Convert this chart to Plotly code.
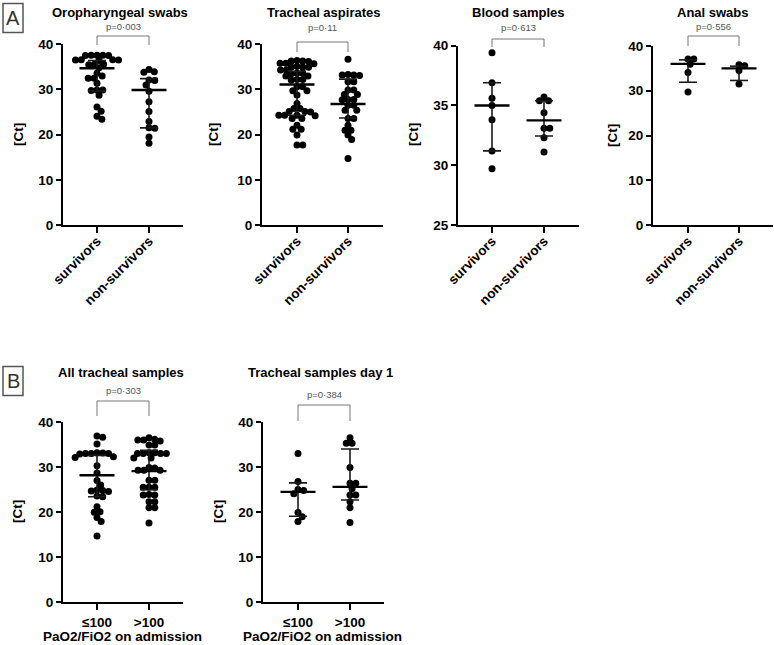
import math
import plotly.graph_objects as go

W, H = 774, 645

# ---------------- data ----------------
outcome_labels = ["survivors", "non-survivors"]
pf_labels = ["≤100", ">100"]

oro_surv = [37.6, 37.6, 37.6, 37.5, 37.5, 36.6, 36.6, 36.5, 36.5, 36.4, 35.6, 35.6, 35.5,
            34.8, 33.6, 33.0, 32.5, 32.5, 31.4, 29.9, 29.9, 29.8, 28.7, 26.1, 25.2, 24.1, 23.4]
oro_non = [34.4, 33.9, 33.8, 32.1, 32.0, 31.0, 29.6, 27.3, 25.1, 22.9, 21.5, 21.4, 19.5, 18.1]
oro_med = [34.7, 29.9]
oro_q1 = [29.7, 21.5]
oro_q3 = [36.4, 32.4]

tra_surv = [36.3, 36.3, 36.2, 36.4, 35.8, 35.8, 35.7, 35.0, 35.0, 35.1, 34.9, 34.3, 34.3,
            33.6, 33.6, 33.5, 33.0, 33.0, 32.2, 32.2, 32.1, 30.6, 30.6, 29.7, 29.7, 28.8,
            26.9, 25.8, 25.8, 25.1, 25.1, 25.0, 24.3, 24.3, 24.2, 24.3, 23.6, 23.6, 22.1,
            21.2, 21.2, 19.9, 17.7, 17.7]
tra_non = [36.7, 33.2, 33.2, 33.3, 33.1, 31.7, 31.7, 29.9, 29.9, 28.9, 28.9, 27.8, 27.8,
           27.7, 26.5, 26.5, 25.4, 25.4, 23.6, 23.6, 22.1, 21.0, 21.0, 19.9, 18.9, 14.7]
tra_med = [31.1, 26.8]
tra_q1 = [24.3, 23.7]
tra_q3 = [34.0, 32.3]

blood_surv = [39.4, 36.9, 35.6, 35.0, 33.8, 31.2, 29.7]
blood_non = [35.7, 35.4, 35.4, 34.4, 33.1, 33.1, 32.3, 31.1]
blood_med = [35.0, 33.75]
blood_q1 = [31.2, 32.45]
blood_q3 = [36.9, 35.4]

anal_surv = [37.1, 37.1, 35.9, 34.1, 29.7]
anal_non = [35.8, 35.6, 34.5, 31.5]
anal_med = [36.0, 35.0]
anal_q1 = [31.9, 32.3]
anal_q3 = [36.9, 35.5]

all_low = [36.9, 36.6, 35.1, 33.2, 33.1, 33.0, 33.0, 33.0, 32.9, 32.3, 32.1, 30.3, 28.7, 27.0,
           26.0, 24.9, 24.8, 24.7, 24.6, 23.6, 23.4, 21.2, 20.1, 20.0, 18.8, 17.9, 14.7]
all_high = [36.5, 36.2, 36.0, 36.0, 35.8, 34.9, 34.9, 33.0, 33.0, 33.0, 33.2, 33.2, 33.0,
            32.0, 32.0, 29.9, 29.8, 29.3, 29.3, 29.3, 27.1, 27.1, 25.5, 25.5, 25.5, 23.8,
            23.8, 23.9, 22.3, 22.3, 21.0, 21.0, 17.6]
all_med = [28.2, 29.1]
all_q1 = [23.4, 25.0]
all_q3 = [32.6, 33.7]

day1_low = [33.0, 26.8, 25.0, 24.8, 24.1, 19.9, 19.0, 17.9]
day1_high = [36.5, 35.3, 35.3, 29.9, 26.4, 26.4, 25.2, 23.8, 23.8, 22.3, 21.0, 17.7]
day1_med = [24.5, 25.6]
day1_q1 = [19.1, 22.7]
day1_q3 = [26.5, 34.0]

titles = ["Oropharyngeal swabs", "Tracheal aspirates", "Blood samples", "Anal swabs",
          "All tracheal samples", "Tracheal samples day 1"]
pvalues = ["p=0·003", "p=0·11", "p=0·613", "p=0·556", "p=0·303", "p=0·384"]

# ---------------- layout geometry (pixels) ----------------
panels = [
    dict(groups=[oro_surv, oro_non], med=oro_med, q1=oro_q1, q3=oro_q3, labels=outcome_labels,
         x0=63, x1=183, c0=97, c1=149, ytop=44.3, ybot=225, yr=[0, 40], dt=10,
         ty=12.5, tx=120, py=26, bt=36, bb=45, ctx=18, cty=135, angle=-45),
    dict(groups=[tra_surv, tra_non], med=tra_med, q1=tra_q1, q3=tra_q3, labels=outcome_labels,
         x0=262, x1=383, c0=297, c1=348, ytop=44.3, ybot=225, yr=[0, 40], dt=10,
         ty=12.5, tx=323, py=28, bt=42, bb=52, ctx=213, cty=135, angle=-45),
    dict(groups=[blood_surv, blood_non], med=blood_med, q1=blood_q1, q3=blood_q3, labels=outcome_labels,
         x0=458, x1=579, c0=492, c1=544, ytop=45.7, ybot=225, yr=[25, 40], dt=5,
         ty=12.5, tx=518, py=28, bt=39, bb=47, ctx=413, cty=135, angle=-45),
    dict(groups=[anal_surv, anal_non], med=anal_med, q1=anal_q1, q3=anal_q3, labels=outcome_labels,
         x0=653, x1=773, c0=688, c1=739, ytop=46, ybot=225, yr=[0, 40], dt=10,
         ty=12.5, tx=713, py=26.5, bt=36, bb=46, ctx=612, cty=136, angle=-45),
    dict(groups=[all_low, all_high], med=all_med, q1=all_q1, q3=all_q3, labels=pf_labels,
         x0=63, x1=183, c0=97, c1=149, ytop=422, ybot=602.3, yr=[0, 40], dt=10,
         ty=372, tx=121, py=390.5, bt=401, bb=416, ctx=17, cty=512, angle=0, xt=(122, 636.5)),
    dict(groups=[day1_low, day1_high], med=day1_med, q1=day1_q1, q3=day1_q3, labels=pf_labels,
         x0=263, x1=384, c0=298, c1=350, ytop=422, ybot=602.3, yr=[0, 40], dt=10,
         ty=372, tx=320, py=394, bt=405, bb=421, ctx=218, cty=512, angle=0, xt=(322, 636.5)),
]

FONT = "Liberation Sans, Arial, sans-serif"
DIAM = 7.0
SPACING = 5.8


def fx(px):
    return px / W


def fy(py):
    return 1 - py / H


def swarm_offsets(vals, ppu_y, diam=SPACING):
    placed = []
    out = [0.0] * len(vals)
    order = sorted(range(len(vals)), key=lambda i: -vals[i])
    for i in order:
        y = vals[i] * ppu_y
        cands = [0.0]
        for (px, py) in placed:
            dy = abs(py - y)
            if dy < diam:
                dx = math.sqrt(diam * diam - dy * dy)
                cands += [px + dx, px - dx]
        cands.sort(key=lambda c: (round(abs(c), 6), -c))
        chosen = 0.0
        for c in cands:
            if all((c - px) ** 2 + (y - py) ** 2 >= diam * diam - 1e-6 for px, py in placed):
                chosen = c
                break
        placed.append((chosen, y))
        out[i] = chosen
    return out


fig = go.Figure()
shapes = []
annotations = []
layout_axes = {}

for k, p in enumerate(panels, start=1):
    xa = "x" if k == 1 else f"x{k}"
    ya = "y" if k == 1 else f"y{k}"
    ppx = p["c1"] - p["c0"]  # pixels per x unit
    ppy = (p["ybot"] - p["ytop"]) / (p["yr"][1] - p["yr"][0])
    xr = [(p["x0"] - p["c0"]) / ppx, 1 + (p["x1"] - p["c1"]) / ppx]

    # points (beeswarm)
    for g, vals in enumerate(p["groups"]):
        offs = swarm_offsets(vals, ppy)
        fig.add_trace(go.Scatter(
            x=[g + o / ppx for o in offs], y=vals, mode="markers",
            marker=dict(size=DIAM, color="black", line=dict(width=0)),
            xaxis=xa, yaxis=ya, showlegend=False, hoverinfo="y", cliponaxis=False))

    # median + IQR
    mw = 17.5 / ppx
    cw = 9.0 / ppx
    mx, my, ix, iy = [], [], [], []
    for g in range(2):
        mx += [g - mw, g + mw, None]
        my += [p["med"][g], p["med"][g], None]
        ix += [g - cw, g + cw, None, g, g, None, g - cw, g + cw, None]
        iy += [p["q3"][g], p["q3"][g], None, p["q3"][g], p["q1"][g], None, p["q1"][g], p["q1"][g], None]
    fig.add_trace(go.Scatter(x=ix, y=iy, mode="lines", line=dict(color="#1a1a1a", width=1.6),
                             xaxis=xa, yaxis=ya, showlegend=False, hoverinfo="skip"))
    fig.add_trace(go.Scatter(x=mx, y=my, mode="lines", line=dict(color="black", width=2.4),
                             xaxis=xa, yaxis=ya, showlegend=False, hoverinfo="skip"))

    tickfont = dict(family=FONT, size=13.5, color="black", weight="bold")
    layout_axes["xaxis" if k == 1 else f"xaxis{k}"] = dict(
        domain=[fx(p["x0"]), fx(p["x1"])], range=xr, anchor=ya, automargin=False,
        tickmode="array", tickvals=[0, 1], ticktext=p["labels"], tickangle=p["angle"],
        ticklabelstandoff=-5 if p["angle"] else 0,
        showline=True, linecolor="black", linewidth=2, ticks="outside", ticklen=6,
        tickwidth=2, tickcolor="black", showgrid=False, zeroline=False, tickfont=tickfont,
        fixedrange=True)
    layout_axes["yaxis" if k == 1 else f"yaxis{k}"] = dict(
        domain=[fy(p["ybot"]), fy(p["ytop"])], range=p["yr"], anchor=xa, automargin=False,
        tick0=p["yr"][0], dtick=p["dt"],
        showline=True, linecolor="black", linewidth=2, ticks="outside", ticklen=5,
        tickwidth=2, tickcolor="black", showgrid=False, zeroline=False, tickfont=tickfont,
        fixedrange=True)

    # title
    annotations.append(dict(text=f"<b>{titles[k-1]}</b>", x=fx(p["tx"]), y=fy(p["ty"]),
                            xref="paper", yref="paper", showarrow=False, xanchor="center",
                            yanchor="middle", font=dict(family=FONT, size=13, color="black")))
    # p value
    annotations.append(dict(text=pvalues[k-1], x=0.5, y=fy(p["py"]),
                            xref=xa, yref="paper", showarrow=False,
                            xanchor="center", yanchor="middle",
                            font=dict(family=FONT, size=9.5, color="#555555")))
    # bracket
    shapes.append(dict(type="path", xref=xa, yref="paper",
                       path=f"M0,{fy(p['bb'])} L0,{fy(p['bt'])} L1,{fy(p['bt'])} L1,{fy(p['bb'])}",
                       line=dict(color="#777777", width=1)))
    # [Ct]
    annotations.append(dict(text="<b>[Ct]</b>", x=fx(p["ctx"]), y=fy(p["cty"]), xref="paper",
                            yref="paper", showarrow=False, textangle=-90, xanchor="center",
                            yanchor="middle", font=dict(family=FONT, size=13.5, color="black")))
    if "xt" in p:
        annotations.append(dict(text="<b>PaO2/FiO2 on admission</b>", x=fx(p["xt"][0]),
                                y=fy(p["xt"][1]), xref="paper", yref="paper", showarrow=False,
                                xanchor="center", yanchor="middle",
                                font=dict(family=FONT, size=13.5, color="black")))

# panel letters
for letter, (bx0, by0, bx1, by1) in [("A", (3, 3.5, 23, 32.5)), ("B", (3, 366.5, 23, 395.5))]:
    shapes.append(dict(type="rect", xref="paper", yref="paper", x0=fx(bx0), x1=fx(bx1),
                       y0=fy(by1), y1=fy(by0), line=dict(color="#555555", width=1.5)))
    annotations.append(dict(text=letter, x=fx((bx0 + bx1) / 2), y=fy((by0 + by1) / 2),
                            xref="paper", yref="paper", showarrow=False, xanchor="center",
                            yanchor="middle", font=dict(family=FONT, size=20, color="#333333")))

fig.update_layout(template="none", width=W, height=H, autosize=False,
                  margin=dict(l=0, r=0, t=0, b=0, pad=0),
                  plot_bgcolor="white", paper_bgcolor="white", shapes=shapes,
                  annotations=annotations, showlegend=False, **layout_axes)

fig.write_html("out.html", config={"displayModeBar": False},
               post_script="document.body.style.margin='0px';document.body.style.overflow='hidden';")
